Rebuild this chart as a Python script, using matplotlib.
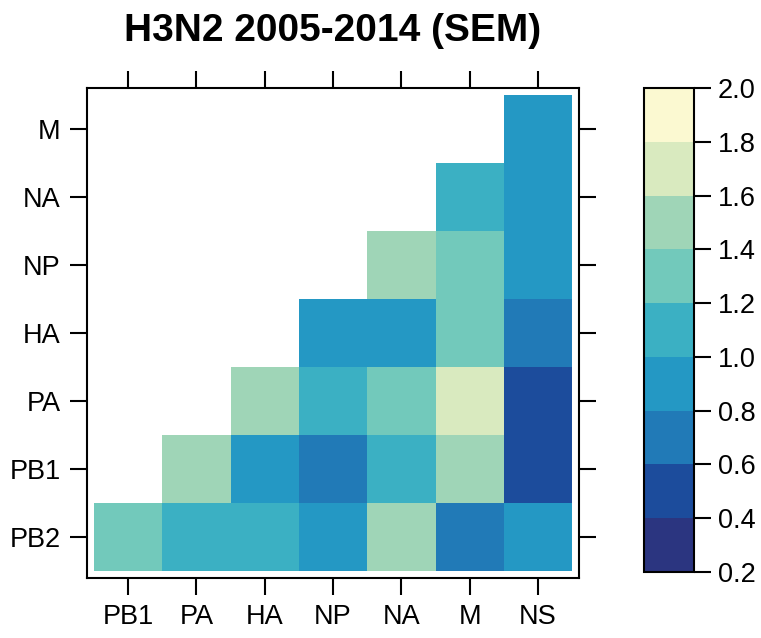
import numpy as np
import matplotlib
matplotlib.use('Agg')
from matplotlib import pyplot as plt
from matplotlib.colors import ListedColormap, BoundaryNorm

plt.rcParams['font.family'] = ['Liberation Sans', 'DejaVu Sans']

# segments
cols = ['PB1', 'PA', 'HA', 'NP', 'NA', 'M', 'NS']
rows = ['PB2', 'PB1', 'PA', 'HA', 'NP', 'NA', 'M']  # bottom -> top
nan = np.nan
sem = [
    [1.3, 1.1, 1.1, 0.9, 1.5, 0.7, 0.9],   # PB2
    [nan, 1.5, 0.9, 0.7, 1.1, 1.5, 0.5],   # PB1
    [nan, nan, 1.5, 1.1, 1.3, 1.7, 0.5],   # PA
    [nan, nan, nan, 0.9, 0.9, 1.3, 0.7],   # HA
    [nan, nan, nan, nan, 1.5, 1.3, 0.9],   # NP
    [nan, nan, nan, nan, nan, 1.1, 0.9],   # NA
    [nan, nan, nan, nan, nan, nan, 0.9],   # M
]
levels = [0.2, 0.4, 0.6, 0.8, 1.0, 1.2, 1.4, 1.6, 1.8, 2.0]
palette = ['#2b3580', '#1c4c9c', '#217ab7', '#2498c4', '#3bb0c3',
           '#72c9bb', '#9fd5b7', '#d9eabf', '#fbf9d1']

cmap = ListedColormap(palette)
norm = BoundaryNorm(levels, cmap.N)
z = np.ma.masked_invalid(np.array(sem))

fig = plt.figure(figsize=(7.61, 6.38), dpi=100)
ax = fig.add_axes([87/761, 60/638, 492/761, 490/638])
x = np.arange(len(cols) + 1) - 0.5
y = np.arange(len(rows) + 1) - 0.5
mesh = ax.pcolormesh(x, y, z, cmap=cmap, norm=norm)
ax.set_xlim(-0.6, len(cols) - 0.4)
ax.set_ylim(-0.6, len(rows) - 0.4)
ax.set_xticks(range(len(cols)))
ax.set_xticklabels(cols)
ax.set_yticks(range(len(rows)))
ax.set_yticklabels(rows)
ax.tick_params(direction='out', length=12, width=1.5, labelsize=19.5, pad=7,
               top=True, right=True)
for s in ax.spines.values():
    s.set_linewidth(1.5)

ax.set_title('H3N2 2005-2014 (SEM)', fontsize=28, fontweight='bold', pad=34)

cax = fig.add_axes([644/761, 66/638, 50/761, 484/638])
cb = fig.colorbar(mesh, cax=cax, ticks=levels)
cb.ax.set_yticklabels(['%.1f' % v for v in levels])
cb.ax.tick_params(direction='out', length=12, width=1.5, labelsize=19.5, pad=5)
cb.outline.set_linewidth(1.5)

fig.savefig('out.png', dpi=100)
